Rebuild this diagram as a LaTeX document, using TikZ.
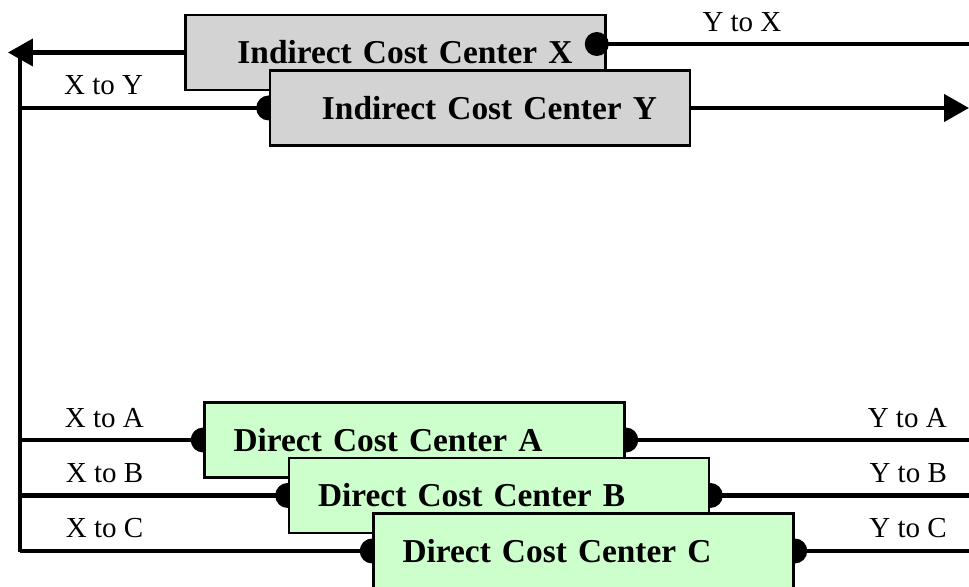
\documentclass[tikz,border=0pt]{standalone}
\usepackage{fontspec}
\setmainfont{Liberation Serif}
\usetikzlibrary{arrows.meta}
\pgfdeclarelayer{back}
\pgfsetlayers{back,main}
\definecolor{boxgray}{RGB}{211,211,211}
\definecolor{boxgreen}{RGB}{204,255,204}
\tikzset{
  costbox/.style={draw, line width=1.5pt, minimum height=1.5cm,
    font=\fontsize{19}{23}\selectfont\bfseries},
  indirect/.style={costbox, fill=boxgray, text width=7.08cm, inner xsep=0.66cm, align=right},
  direct/.style={costbox, fill=boxgreen, text width=7.24cm, inner xsep=0.58cm, align=left},
  flow/.style={line width=2.4pt},
  bigtip/.style={-{Triangle[length=0.5cm, width=0.54cm]}},
  lbl/.style={font=\fontsize{16.5}{19}\selectfont, above=2.7pt},
}

\begin{document}
\begin{tikzpicture}[x=0.02cm, y=-0.02cm, node distance=1.11cm]
    \useasboundingbox (0,0) rectangle (969,587);

    \node[indirect] (X) at (395.5,52.5) {Indirect Cost Center X};
    \node[indirect] (Y) [below of=X, xshift=1.69cm] {Indirect Cost Center Y};
    \node[direct] (A) at (414.5,440) {Direct Cost Center A};
    \node[direct] (B) [below of=A, xshift=1.69cm] {Direct Cost Center B};
    \node[direct] (C) [below of=B, xshift=1.69cm] {Direct Cost Center C};

    \coordinate (tip) at (8,52.5);
    \coordinate (trunk) at (20,52.5);
    \coordinate (foot) at (20,552);
    \coordinate (rgt) at (969,0);
    \coordinate (xout) at ([xshift=-0.2cm, yshift=0.17cm]X.east);

    \begin{pgfonlayer}{back}
    \draw[flow, bigtip] (X.west) -- (tip);
    \draw[flow] (trunk) -- (foot);
    \draw[flow] (Y.west -| trunk) to node[lbl, pos=0.336] {X to Y} (Y.west);
    \draw[flow, bigtip] (Y.east) -- (Y.east -| rgt);
    \draw[flow] (xout) to node[lbl, pos=0.39] {Y to X} (xout -| rgt);

    \draw[flow] (A.west -| trunk) to node[lbl, pos=0.46] {X to A} (A.west);
    \draw[flow] (B.west -| trunk) to node[lbl, pos=0.316] {X to B} (B.west);
    \draw[flow] (C.west -| trunk) to node[lbl, pos=0.24] {X to C} (C.west);
    \draw[flow] (A.east) to node[lbl, pos=0.82] {Y to A} (A.east -| rgt);
    \draw[flow] (B.east) to node[lbl, pos=0.765] {Y to B} (B.east -| rgt);
    \draw[flow] (C.east) to node[lbl, pos=0.65] {Y to C} (C.east -| rgt);

    \foreach \p in {Y.west, A.west, B.west, C.west, A.east, B.east, C.east}
      \fill (\p) circle (0.25cm);
    \end{pgfonlayer}

    \fill (xout) circle (0.24cm);
  \end{tikzpicture}
\end{document}
